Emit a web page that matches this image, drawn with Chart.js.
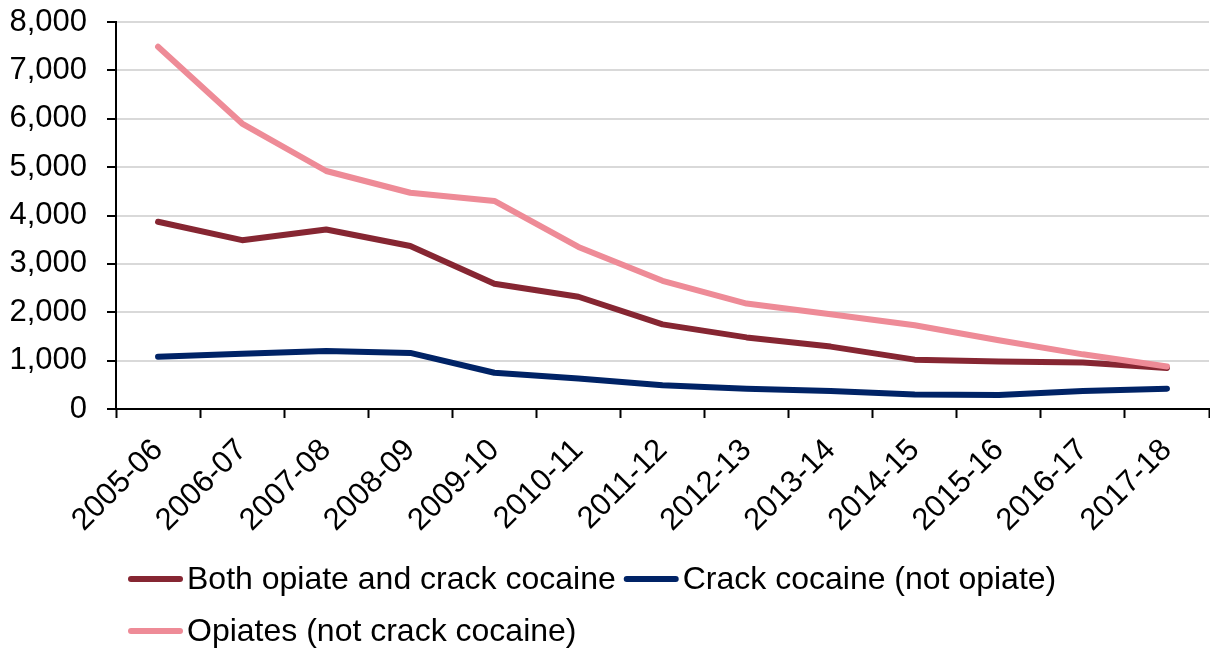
<!DOCTYPE html>
<html>
<head>
<meta charset="utf-8">
<script src="https://cdn.jsdelivr.net/npm/chart.js@4/dist/chart.umd.min.js"></script>
<style>
  html, body { margin: 0; padding: 0; background: #fff; }
  #wrap { width: 1210px; height: 650px; }
</style>
</head>
<body>
<div id="wrap"><canvas id="chartTreatment"></canvas></div>
<script>
// Financial years
const years = [
  "2005-06", "2006-07", "2007-08", "2008-09", "2009-10", "2010-11", "2011-12",
  "2012-13", "2013-14", "2014-15", "2015-16", "2016-17", "2017-18",
];

// Numbers per year by drug group
const bothOpiateCrack = [3870, 3490, 3710, 3370, 2590, 2320, 1750, 1480, 1290, 1020, 980, 960, 850];
const crackNotOpiate = [1080, 1140, 1200, 1160, 750, 630, 490, 420, 370, 300, 290, 370, 420];
const opiatesNotCrack = [7490, 5900, 4920, 4470, 4300, 3350, 2650, 2180, 1960, 1730, 1420, 1130, 880];

const yTickMax = 8000;
const yTickStep = 1000;

const FONT = '"Liberation Sans", Arial, sans-serif';

// Legend drawn under the axis: short line marker followed by the label
const lineLegend = {
  id: "lineLegend",
  afterDraw(chart) {
    const ctx = chart.ctx;
    const left = chart.chartArea.left + 12;
    const right = chart.chartArea.right;
    let x = left;
    let y = chart.chartArea.bottom + 170;
    ctx.save();
    ctx.font = "32px " + FONT;
    ctx.textBaseline = "middle";
    ctx.textAlign = "left";
    chart.data.datasets.forEach(function (ds) {
      const w = 59 + ctx.measureText(ds.label).width;
      if (x > left && x + w > right) {
        x = left;
        y += 52;
      }
      ctx.strokeStyle = ds.borderColor;
      ctx.lineWidth = 6;
      ctx.lineCap = "round";
      ctx.beginPath();
      ctx.moveTo(x + 3, y);
      ctx.lineTo(x + 52, y);
      ctx.stroke();
      ctx.fillStyle = "#000";
      ctx.fillText(ds.label, x + 59, y + 1);
      x += w + 8;
    });
    ctx.restore();
  },
};

const ctx = document.getElementById("chartTreatment").getContext("2d");
const chartTreatment = new Chart(ctx, {
  type: "line",
  data: {
    labels: years,
    datasets: [
      {
        label: "Both opiate and crack cocaine",
        data: bothOpiateCrack,
        borderColor: "#862632",
        order: 1,
      },
      {
        label: "Crack cocaine (not opiate)",
        data: crackNotOpiate,
        borderColor: "#002366",
        order: 2,
      },
      {
        label: "Opiates (not crack cocaine)",
        data: opiatesNotCrack,
        borderColor: "#EE8B97",
        order: 0,
      },
    ],
  },
  options: {
    responsive: true,
    maintainAspectRatio: false,
    animation: false,
    layout: {
      padding: { left: 6, right: 1, top: 22, bottom: 110 },
    },
    elements: {
      line: {
        borderWidth: 6,
        tension: 0,
        borderCapStyle: "round",
        borderJoinStyle: "round",
        fill: false,
      },
      point: { radius: 0 },
    },
    scales: {
      x: {
        offset: true,
        afterFit: function (scale) {
          scale.height = 131;
        },
        grid: {
          offset: true,
          drawOnChartArea: false,
          drawTicks: true,
          tickLength: 9,
          tickColor: "#000",
          tickWidth: 2,
        },
        border: { color: "#000", width: 2 },
        ticks: {
          color: "#000",
          maxRotation: 45,
          minRotation: 45,
          autoSkip: false,
          padding: 14,
          font: { family: FONT, size: 31 },
        },
      },
      y: {
        min: 0,
        max: yTickMax,
        afterFit: function (scale) {
          scale.width = 110;
          scale.paddingTop = 0;
          scale.paddingBottom = 0;
        },
        grid: {
          color: "#D9D9D9",
          lineWidth: 2,
          tickLength: 9,
          tickColor: "#000",
          tickWidth: 2,
        },
        border: { color: "#000", width: 2 },
        ticks: {
          stepSize: yTickStep,
          color: "#000",
          padding: 20,
          font: { family: FONT, size: 31 },
          callback: function (value) {
            return value.toLocaleString("en-GB");
          },
        },
      },
    },
    plugins: {
      legend: { display: false },
      tooltip: { enabled: false },
    },
  },
  plugins: [lineLegend],
});
</script>
</body>
</html>
